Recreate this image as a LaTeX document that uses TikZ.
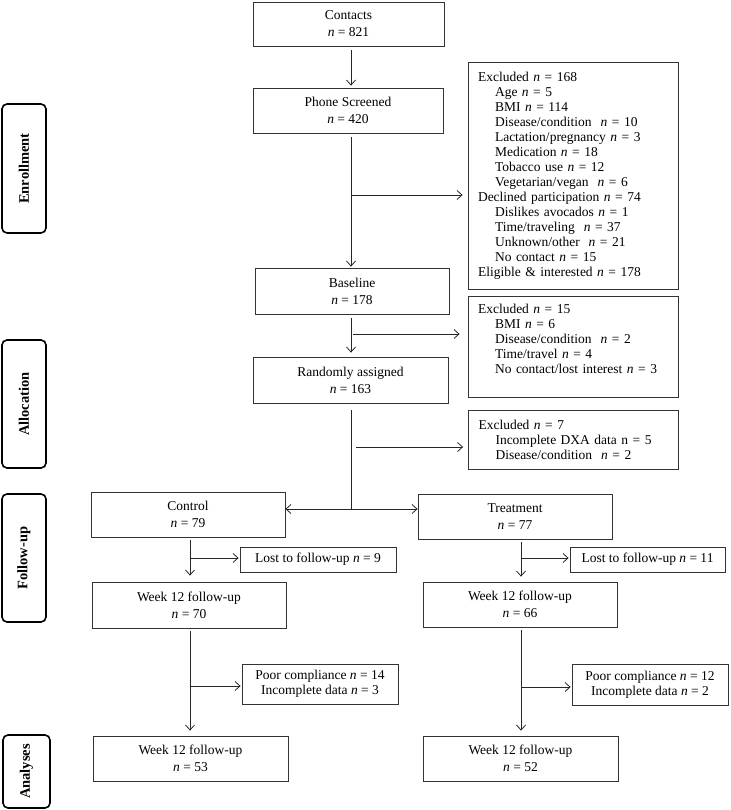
\documentclass[tikz,border=0pt]{standalone}
\usepackage{fontspec}
\setmainfont{Liberation Serif}
\usetikzlibrary{arrows.meta}
\newcommand{\vn}{\textit{n}}
\newcommand{\subi}{\hspace*{17pt}}
\begin{document}
\begin{tikzpicture}[x=1pt,y=-1pt,
  box/.style={draw=black!80, line width=0.8pt, align=center, inner sep=1pt, font=\fontsize{13.5}{17}\selectfont},
  smallbox/.style={draw=black!80, line width=0.8pt, align=center, inner sep=1pt, font=\fontsize{13.5}{15}\selectfont},
  listbox/.style={draw=black!80, line width=0.8pt, align=left, inner xsep=10pt, inner ysep=0pt, text width=190pt, font=\fontsize{13.5}{15}\selectfont},
  stage/.style={draw=black, line width=1.6pt, rounded corners=5pt, rotate=90, inner sep=0pt, align=center, font=\fontsize{14.5}{16}\selectfont\bfseries},
  arr/.style={draw=black!85, line width=0.8pt, -{Straight Barb[length=5pt,width=9pt]}},
  ln/.style={draw=black!85, line width=0.8pt}]
\useasboundingbox (0,0) rectangle (730,810);

% stage labels
\node[stage, minimum width=129pt, minimum height=44pt] (enr) at (24,168.5) {Enrollment};
\node[stage, minimum width=128pt, minimum height=44pt] (alloc) at (24,404) {Allocation};
\node[stage, minimum width=128pt, minimum height=44pt] (fup) at (24,558) {Follow-up};
\node[stage, minimum width=73pt, minimum height=47pt] (ana) at (26.5,771.5) {Analyses};

% main column
\node[box, minimum width=191pt, minimum height=44pt] (contacts) at (348.5,24) {Contacts\\ \vn{} = 821};
\node[box, minimum width=190pt, minimum height=45pt] (phone) at (348,110.5) {Phone Screened\\ \vn{} = 420};
\node[box, minimum width=194pt, minimum height=46pt] (baseline) at (352,291) {Baseline\\ \vn{} = 178};
\node[box, minimum width=195pt, minimum height=46pt] (random) at (350.5,380) {Randomly assigned\\ \vn{} = 163};

% exclusion boxes
\node[listbox, minimum height=227pt] (exA) at (573,175.5) {Excluded \vn{} = 168\\
\subi Age \vn{} = 5\\
\subi BMI \vn{} = 114\\
\subi Disease/condition~ \vn{} = 10\\
\subi Lactation/pregnancy \vn{} = 3\\
\subi Medication \vn{} = 18\\
\subi Tobacco use \vn{} = 12\\
\subi Vegetarian/vegan~ \vn{} = 6\\
Declined participation \vn{} = 74\\
\subi Dislikes avocados \vn{} = 1\\
\subi Time/traveling~ \vn{} = 37\\
\subi Unknown/other~ \vn{} = 21\\
\subi No contact \vn{} = 15\\
Eligible \& interested \vn{} = 178};

\node[listbox, minimum height=101pt] (exB) at (573,346.5) {Excluded \vn{} = 15\\
\subi BMI \vn{} = 6\\
\subi Disease/condition~ \vn{} = 2\\
\subi Time/travel \vn{} = 4\\
\subi No contact/lost interest \vn{} = 3\\
\mbox{}};

\node[listbox, minimum height=59pt] (exC) at (573.5,439.5) {Excluded \vn{} = 7\\
\subi Incomplete DXA data n = 5\\
\subi Disease/condition~ \vn{} = 2};

% arms
\node[box, minimum width=194pt, minimum height=45pt] (control) at (188,514.5) {Control\\ \vn{} = 79};
\node[box, minimum width=194pt, minimum height=45pt] (treat) at (515,516.5) {Treatment\\ \vn{} = 77};
\node[smallbox, minimum width=156pt, minimum height=25pt] (lost1) at (318,559.5) {Lost to follow-up \vn{} = 9};
\node[smallbox, minimum width=155pt, minimum height=25pt] (lost2) at (647.5,559.5) {Lost to follow-up \vn{} = 11};
\node[box, minimum width=194pt, minimum height=46pt] (w12c) at (189,605) {Week 12 follow-up\\ \vn{} = 70};
\node[box, minimum width=194pt, minimum height=45pt] (w12t) at (520,604.5) {Week 12 follow-up\\ \vn{} = 66};
\node[smallbox, minimum width=156pt, minimum height=40pt] (poor1) at (320,684) {Poor compliance \vn{} = 14\\ Incomplete data \vn{} = 3};
\node[smallbox, minimum width=156pt, minimum height=41pt] (poor2) at (650,684.5) {Poor compliance \vn{} = 12\\ Incomplete data \vn{} = 2};
\node[box, minimum width=195pt, minimum height=45pt] (fin1) at (190.5,758.5) {Week 12 follow-up\\ \vn{} = 53};
\node[box, minimum width=195pt, minimum height=45pt] (fin2) at (520.5,758.5) {Week 12 follow-up\\ \vn{} = 52};

% connector coordinates
\coordinate (sp) at (351,0);
\coordinate (b1) at (351,195);
\coordinate (b2) at (351,334);
\coordinate (b3) at (351,447);
\coordinate (split) at (351,509);
\coordinate (cx) at (190,0);
\coordinate (tx) at (521,0);
\coordinate (c1) at (190,558);
\coordinate (t1) at (521,558);
\coordinate (c2) at (190,686);
\coordinate (t2) at (521,687);

% connectors
\draw[arr, shorten <=4pt, shorten >=2pt] (contacts.south -| sp) -- (phone.north -| sp);
\draw[arr, shorten <=4pt, shorten >=1pt] (phone.south -| sp) -- (baseline.north -| sp);
\draw[arr, shorten >=5pt] (b1) -- (exA.west |- b1);
\draw[arr, shorten <=4pt, shorten >=4pt] (baseline.south -| sp) -- (random.north -| sp);
\draw[arr, shorten <=2pt, shorten >=8pt] (b2) -- (exB.west |- b2);
\draw[ln, shorten <=7pt] (random.south -| sp) -- (split);
\draw[arr, shorten <=5pt, shorten >=5pt] (b3) -- (exC.west |- b3);
\draw[arr] (split) -- (control.east |- split);
\draw[arr] (split) -- (treat.west |- split);

\draw[arr, shorten <=3pt, shorten >=6pt] (control.south -| cx) -- (w12c.north -| cx);
\draw[arr, shorten >=1pt] (c1) -- (lost1.west |- c1);
\draw[arr, shorten <=3pt, shorten >=5pt] (treat.south -| tx) -- (w12t.north -| tx);
\draw[arr, shorten >=1pt] (t1) -- (lost2.west |- t1);

\draw[arr, shorten <=3pt, shorten >=5pt] (w12c.south -| cx) -- (fin1.north -| cx);
\draw[arr, shorten >=1pt] (c2) -- (poor1.west |- c2);
\draw[arr, shorten <=3pt, shorten >=5pt] (w12t.south -| tx) -- (fin2.north -| tx);
\draw[arr, shorten >=1pt] (t2) -- (poor2.west |- t2);
\end{tikzpicture}
\end{document}
